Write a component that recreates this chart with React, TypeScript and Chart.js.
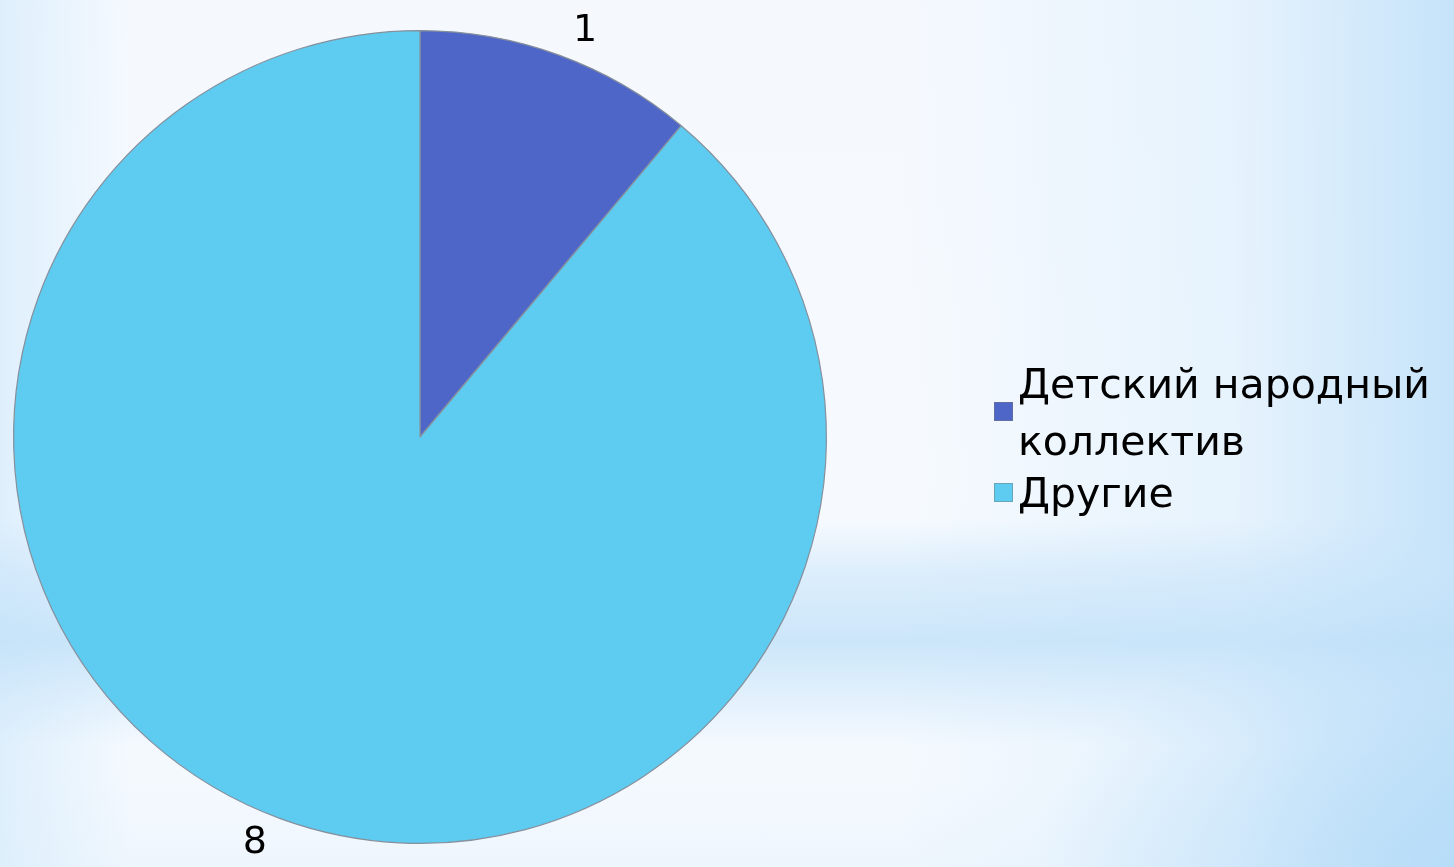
import React, { useEffect, useRef } from "react";
import { Chart, registerables } from "chart.js";

Chart.register(...registerables);

const categories = ["Детский народный коллектив", "Другие"];
const legendLines = [["Детский народный", "коллектив"], ["Другие"]];
const values = [1, 8];
const sliceColors = ["#4f66c9", "#5ecbf1"];

const FONT = "'DejaVu Sans', Verdana, sans-serif";

const labelPlugin = {
  id: "outsideLabels",
  afterDatasetsDraw(chart: any) {
    const ctx = chart.ctx;
    const meta = chart.getDatasetMeta(0);
    ctx.save();
    ctx.font = `38px ${FONT}`;
    ctx.fillStyle = "#000";
    ctx.textAlign = "center";
    ctx.textBaseline = "middle";
    meta.data.forEach((arc: any, i: number) => {
      const p = arc.getProps(["x", "y", "startAngle", "endAngle", "outerRadius"], true);
      const mid = (p.startAngle + p.endAngle) / 2;
      const anchorR = p.outerRadius + 12;
      const ax = p.x + Math.cos(mid) * anchorR;
      const ay = p.y + Math.sin(mid) * anchorR;
      const text = String(values[i]);
      const w = ctx.measureText(text).width;
      const cx = ax + Math.sign(Math.cos(mid)) * (w / 2 + 10);
      const cy = ay + Math.sign(Math.sin(mid)) * 13;
      ctx.fillText(text, cx, cy);
    });
    ctx.restore();
  },
};

const legendPlugin = {
  id: "sideLegend",
  afterDraw(chart: any) {
    const ctx = chart.ctx;
    const area = chart.chartArea;
    const left = area.right + 167;
    const baselines = [[398, 455], [507]];
    const box = 19;
    ctx.save();
    ctx.font = `41px ${FONT}`;
    ctx.textAlign = "left";
    ctx.textBaseline = "alphabetic";
    legendLines.forEach((lines, i) => {
      const bl = baselines[i];
      const mean = bl.reduce((a, b) => a + b, 0) / bl.length;
      const top = Math.round(mean - 15 - box / 2);
      ctx.fillStyle = sliceColors[i];
      ctx.fillRect(left, top, box, box);
      ctx.strokeStyle = "rgba(120,120,120,0.45)";
      ctx.lineWidth = 1;
      ctx.strokeRect(left + 0.5, top + 0.5, box - 1, box - 1);
      ctx.fillStyle = "#000";
      lines.forEach((ln, j) => {
        ctx.fillText(ln, left + 24, bl[j]);
      });
    });
    ctx.restore();
  },
};

export default function App() {
  const ref = useRef<HTMLCanvasElement | null>(null);

  useEffect(() => {
    document.body.style.margin = "0";
    if (!ref.current) return;
    const chart = new Chart(ref.current, {
      type: "pie",
      data: {
        labels: categories,
        datasets: [
          {
            data: values,
            backgroundColor: sliceColors,
            borderColor: ["#86909c", "#86909c"],
            borderWidth: 1.2,
          },
        ],
      },
      options: {
        animation: false,
        responsive: false,
        maintainAspectRatio: false,
        layout: { padding: { left: 13, right: 627, top: 30, bottom: 23 } },
        plugins: {
          legend: { display: false },
          tooltip: { enabled: false },
        },
      },
      plugins: [labelPlugin, legendPlugin],
    });
    return () => chart.destroy();
  }, []);

  const bg = [
    "radial-gradient(ellipse 420px 260px at 1454px 867px, rgba(182,220,248,0.9), rgba(182,220,248,0) 100%)",
    "linear-gradient(to bottom, rgba(190,224,248,0) 60%, rgba(200,228,250,0.55) 66%, rgba(190,224,248,0.75) 74%, rgba(200,228,250,0.45) 80%, rgba(190,224,248,0) 86%)",
    "linear-gradient(to right, rgba(220,238,252,0.9) 0%, rgba(246,250,254,0) 9%, rgba(246,250,254,0) 62%, rgba(220,238,252,0.6) 85%, rgba(195,226,249,0.95) 100%)",
    "linear-gradient(to bottom, #f5f9fe 0%, #f6fafe 55%, #f4f9fe 90%, #eef6fd 100%)",
  ].join(",");

  return (
    <div
      style={{
        position: "fixed",
        left: 0,
        top: 0,
        width: 1454,
        height: 867,
        background: bg,
        overflow: "hidden",
      }}
    >
      <canvas ref={ref} width={1454} height={867} style={{ display: "block", width: 1454, height: 867 }} />
    </div>
  );
}
